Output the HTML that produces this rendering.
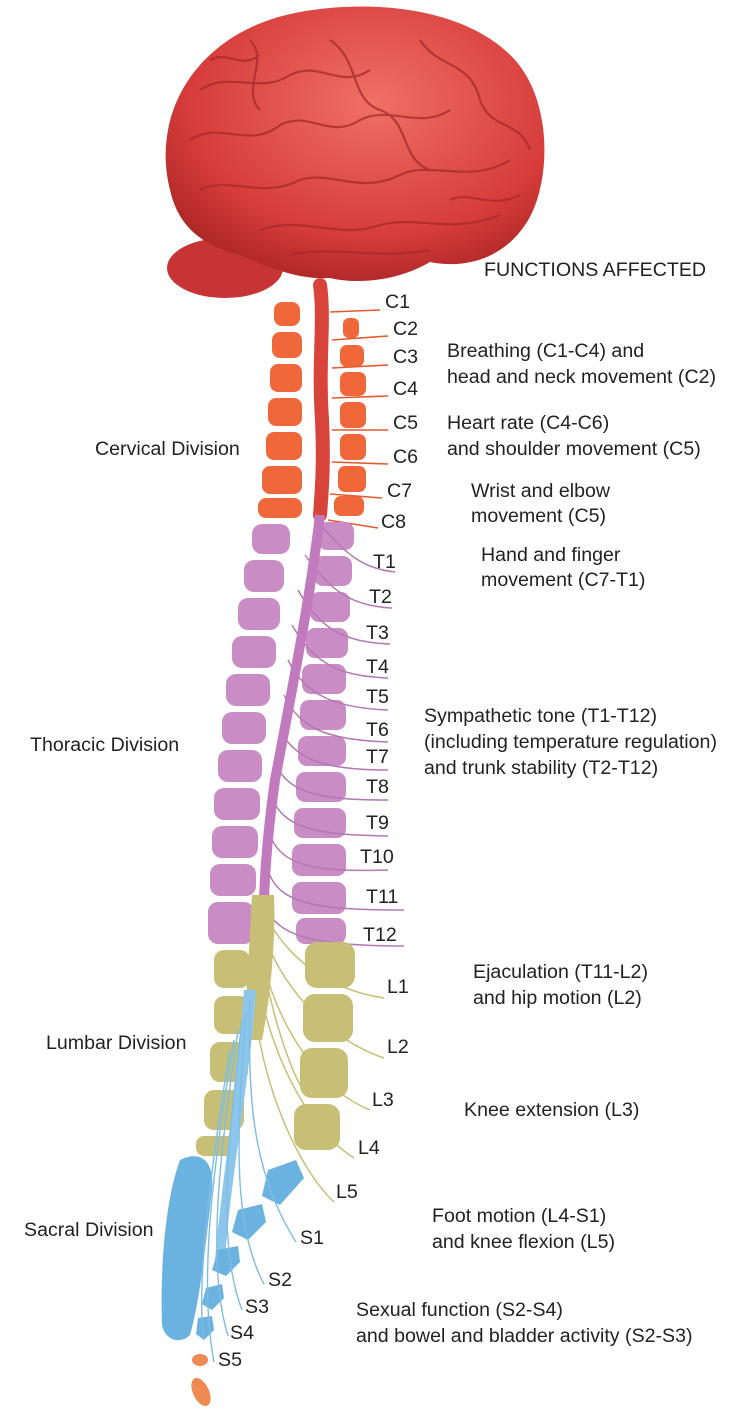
<!DOCTYPE html>
<html><head><meta charset="utf-8"><style>
html,body{margin:0;padding:0;background:#fff}
svg{display:block}
text{font-family:"Liberation Sans",Arial,sans-serif;font-size:19.6px;fill:#222}
</style></head><body>
<svg width="734" height="1418" viewBox="0 0 734 1418" xmlns="http://www.w3.org/2000/svg">
<defs>
<radialGradient id="br" cx="0.55" cy="0.35" r="0.7"><stop offset="0" stop-color="#f07065"/><stop offset="0.7" stop-color="#d63c3a"/><stop offset="1" stop-color="#a82424"/></radialGradient>
</defs>
<ellipse cx="225" cy="268" rx="58" ry="30" fill="#c73434"/>
<path d="M170 190 C150 110 200 30 300 12 C380 -2 470 10 515 60 C555 105 550 190 525 225 C505 255 470 270 430 262 C400 280 360 285 330 278 C300 280 270 268 240 255 C200 245 178 225 170 190 Z" fill="url(#br)"/>
<g fill="none" stroke="#a52a2a" stroke-width="2.2" opacity="0.75">
<path d="M200 90 C230 70 260 95 290 75 C320 60 340 90 370 70"/>
<path d="M190 140 C220 120 250 150 280 125 C310 110 330 140 360 120 C390 105 420 130 450 110"/>
<path d="M200 190 C230 175 260 200 300 180 C330 170 360 195 400 175 C430 160 470 185 510 160"/>
<path d="M260 230 C300 215 340 240 380 225 C420 215 450 235 500 215"/>
<path d="M330 40 C360 60 350 100 380 110 C410 120 400 160 430 170"/>
<path d="M420 40 C440 70 470 60 480 100 C490 130 520 120 530 150"/>
<path d="M250 40 C270 60 240 90 260 110"/>
<path d="M290 255 C330 245 380 260 430 250"/>
<path d="M210 60 C230 50 240 70 260 55"/>
<path d="M450 200 C470 190 490 210 520 195"/>
</g>
<g fill="#f0683a">
<rect x="343" y="318" width="16" height="20" rx="6"/>
<rect x="340" y="345" width="24" height="22" rx="7"/>
<rect x="340" y="372" width="26" height="24" rx="7"/>
<rect x="340" y="402" width="26" height="26" rx="7"/>
<rect x="340" y="434" width="26" height="26" rx="7"/>
<rect x="338" y="466" width="28" height="26" rx="7"/>
<rect x="334" y="496" width="30" height="20" rx="7"/>
</g>
<g fill="#f0683a">
<rect x="274" y="302" width="26" height="24" rx="8"/>
<rect x="272" y="332" width="30" height="26" rx="8"/>
<rect x="270" y="364" width="32" height="28" rx="8"/>
<rect x="268" y="398" width="34" height="28" rx="8"/>
<rect x="266" y="432" width="36" height="28" rx="8"/>
<rect x="262" y="466" width="40" height="28" rx="8"/>
<rect x="258" y="498" width="44" height="20" rx="8"/>
</g>
<g stroke="#e35a2f" stroke-width="1.6" fill="none">
<path d="M330 312 L380 310"/><path d="M332 340 L388 336"/><path d="M332 368 L388 365"/><path d="M332 398 L388 396"/>
<path d="M332 430 L388 430"/><path d="M332 462 L388 464"/><path d="M330 494 L382 498"/><path d="M328 520 L378 528"/>
</g>
<path d="M320 285 C325 320 318 360 322 420 C324 460 322 490 320 515" stroke="#d8443a" stroke-width="14" fill="none" stroke-linecap="round"/>
<g fill="#c98cc4">
<rect x="318" y="522" width="36" height="28" rx="9"/>
<rect x="314" y="556" width="38" height="30" rx="9"/>
<rect x="310" y="592" width="40" height="30" rx="9"/>
<rect x="306" y="628" width="42" height="30" rx="9"/>
<rect x="302" y="664" width="44" height="30" rx="9"/>
<rect x="300" y="700" width="46" height="30" rx="9"/>
<rect x="298" y="736" width="48" height="30" rx="9"/>
<rect x="296" y="772" width="50" height="30" rx="9"/>
<rect x="294" y="808" width="52" height="30" rx="9"/>
<rect x="292" y="844" width="54" height="32" rx="9"/>
<rect x="292" y="882" width="54" height="32" rx="9"/>
<rect x="296" y="918" width="50" height="26" rx="9"/>
</g>
<g fill="#c98cc4">
<rect x="252" y="524" width="38" height="30" rx="10"/>
<rect x="244" y="560" width="40" height="32" rx="10"/>
<rect x="238" y="598" width="42" height="32" rx="10"/>
<rect x="232" y="636" width="44" height="32" rx="10"/>
<rect x="226" y="674" width="44" height="32" rx="10"/>
<rect x="222" y="712" width="44" height="32" rx="10"/>
<rect x="218" y="750" width="44" height="32" rx="10"/>
<rect x="214" y="788" width="46" height="32" rx="10"/>
<rect x="212" y="826" width="46" height="32" rx="10"/>
<rect x="210" y="864" width="46" height="32" rx="10"/>
<rect x="208" y="902" width="46" height="42" rx="10"/>
</g>
<g stroke="#b478b2" stroke-width="1.5" fill="none">
<path d="M315 520 C340 545 355 568 395 572"/>
<path d="M305 555 C330 590 350 606 392 608"/>
<path d="M298 590 C320 630 345 642 390 644"/>
<path d="M292 625 C315 665 340 676 388 678"/>
<path d="M288 660 C305 695 335 708 388 710"/>
<path d="M284 695 C300 730 330 740 388 742"/>
<path d="M280 730 C296 762 330 770 388 770"/>
<path d="M276 765 C290 795 325 800 388 800"/>
<path d="M273 800 C286 830 322 835 388 836"/>
<path d="M270 835 C282 868 320 872 388 870"/>
<path d="M268 870 C278 905 320 910 404 910"/>
<path d="M266 905 C275 938 320 946 404 946"/>
</g>
<path d="M320 515 C310 600 290 700 275 780 C268 830 265 870 264 900" stroke="#c07abd" stroke-width="10" fill="none"/>
<g fill="#c8bf76">
<rect x="214" y="950" width="36" height="38" rx="10"/>
<rect x="214" y="996" width="36" height="38" rx="10"/>
<rect x="210" y="1042" width="38" height="40" rx="10"/>
<rect x="204" y="1090" width="40" height="40" rx="10"/>
<rect x="196" y="1136" width="40" height="20" rx="8"/>
<rect x="305" y="942" width="50" height="46" rx="12"/>
<rect x="303" y="994" width="50" height="48" rx="12"/>
<rect x="300" y="1048" width="48" height="50" rx="12"/>
<rect x="294" y="1104" width="46" height="46" rx="12"/>
</g>
<path d="M252 895 L274 895 C276 940 270 1000 262 1040 L244 1040 Z" fill="#c8bf76"/>
<g stroke="#c8bf76" stroke-width="1.5" fill="none">
<path d="M268 920 C290 960 330 990 384 998"/>
<path d="M266 940 C285 990 330 1040 384 1058"/>
<path d="M262 960 C280 1030 320 1090 370 1110"/>
<path d="M258 980 C272 1060 310 1130 354 1158"/>
<path d="M254 1000 C262 1090 300 1170 334 1202"/>
<path d="M262 960 C270 1000 282 1050 300 1085"/>
</g>
<path d="M256 990 C250 1080 230 1180 225 1260 L215 1260 C222 1180 238 1080 244 990 Z" fill="#8cc6ea"/>
<g fill="#6ab2e0">
<path d="M180 1160 C200 1150 215 1160 212 1190 C205 1250 200 1300 190 1335 C180 1345 165 1340 162 1325 C160 1270 165 1200 180 1160 Z"/>
<path d="M268 1170 L296 1160 L304 1178 L280 1205 L262 1196 Z"/>
<path d="M238 1210 L262 1204 L266 1222 L248 1240 L232 1232 Z"/>
<path d="M218 1250 L238 1246 L240 1262 L226 1276 L212 1270 Z"/>
<path d="M206 1288 L222 1284 L224 1298 L212 1310 L202 1304 Z"/>
<path d="M198 1318 L212 1316 L214 1330 L204 1340 L196 1334 Z"/>
</g>
<g stroke="#7cbde6" stroke-width="1.4" fill="none">
<path d="M250 1000 C248 1090 250 1170 296 1242"/>
<path d="M246 1010 C238 1120 230 1220 264 1284"/>
<path d="M242 1020 C230 1130 215 1240 242 1310"/>
<path d="M238 1030 C222 1140 205 1260 228 1336"/>
<path d="M234 1040 C214 1160 198 1280 214 1362"/>
<path d="M230 1050 C210 1170 196 1290 204 1340"/>
</g>
<ellipse cx="200" cy="1360" rx="8" ry="6" fill="#ef8a55"/>
<ellipse cx="201" cy="1392" rx="8" ry="15" fill="#ef8a55" transform="rotate(-25 201 1392)"/>
<g font-size="17">
<text x="385" y="308">C1</text><text x="393" y="335">C2</text><text x="393" y="363">C3</text><text x="393" y="395">C4</text>
<text x="393" y="429">C5</text><text x="393" y="463">C6</text><text x="387" y="497">C7</text><text x="381" y="528">C8</text>
<text x="373" y="568">T1</text><text x="369" y="603">T2</text><text x="366" y="639">T3</text><text x="366" y="673">T4</text>
<text x="366" y="703">T5</text><text x="366" y="736">T6</text><text x="366" y="763">T7</text><text x="366" y="793">T8</text>
<text x="366" y="829">T9</text><text x="360" y="863">T10</text><text x="366" y="903">T11</text><text x="363" y="941">T12</text>
<text x="387" y="993">L1</text><text x="387" y="1053">L2</text><text x="372" y="1106">L3</text><text x="358" y="1154">L4</text>
<text x="336" y="1198">L5</text><text x="300" y="1244">S1</text><text x="268" y="1286">S2</text><text x="245" y="1313">S3</text>
<text x="230" y="1339">S4</text><text x="218" y="1366">S5</text>
</g>
<text x="484" y="276" font-size="17">FUNCTIONS AFFECTED</text>
<text x="447" y="357">Breathing (C1-C4) and</text>
<text x="447" y="383">head and neck movement (C2)</text>
<text x="447" y="429">Heart rate (C4-C6)</text>
<text x="447" y="455">and shoulder movement (C5)</text>
<text x="471" y="497">Wrist and elbow</text>
<text x="471" y="522">movement (C5)</text>
<text x="481" y="561">Hand and finger</text>
<text x="481" y="586">movement (C7-T1)</text>
<text x="424" y="722">Sympathetic tone (T1-T12)</text>
<text x="424" y="748">(including temperature regulation)</text>
<text x="424" y="774">and trunk stability (T2-T12)</text>
<text x="473" y="978">Ejaculation (T11-L2)</text>
<text x="473" y="1004">and hip motion (L2)</text>
<text x="464" y="1116">Knee extension (L3)</text>
<text x="432" y="1222">Foot motion (L4-S1)</text>
<text x="432" y="1248">and knee flexion (L5)</text>
<text x="356" y="1316">Sexual function (S2-S4)</text>
<text x="356" y="1342">and bowel and bladder activity (S2-S3)</text>
<text x="95" y="455" font-size="19">Cervical Division</text>
<text x="30" y="751" font-size="19">Thoracic Division</text>
<text x="46" y="1049" font-size="19">Lumbar Division</text>
<text x="24" y="1236" font-size="18.5">Sacral Division</text>
</svg>
</body></html>
